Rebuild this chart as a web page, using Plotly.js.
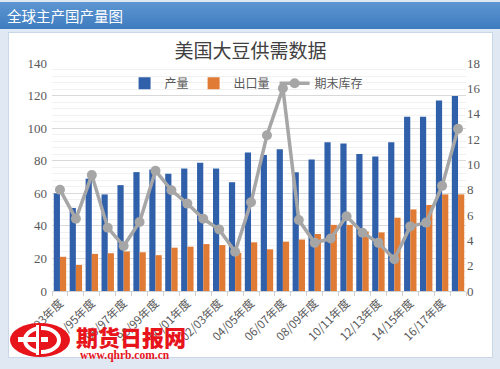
<!DOCTYPE html>
<html><head><meta charset="utf-8">
<script src="https://cdn.plot.ly/plotly-3.0.1.min.js"></script>
<style>
html,body{margin:0;padding:0;width:500px;height:369px;overflow:hidden;background:#dfe8f3;}
#hdr{position:absolute;left:0;top:2px;width:500px;height:27px;background:linear-gradient(#5d96d2,#3e7cbf);color:#fff;font:14.5px "Noto Sans CJK SC",sans-serif;line-height:27px;padding-left:7px;box-sizing:border-box;}
#panel{position:absolute;left:8px;top:32px;width:485px;height:326px;background:#fff;border:1px solid #c9d7e9;box-sizing:border-box;}
#chart{position:absolute;left:8px;top:32px;width:485px;height:326px;}
#logo{position:absolute;left:8px;top:316px;width:180px;height:48px;}
</style></head>
<body>
<div id="hdr">全球主产国产量图</div>
<div id="panel"></div>
<div id="chart"></div>
<svg id="logo" width="180" height="48" viewBox="0 0 180 48">
  <ellipse cx="32" cy="24" rx="30" ry="17" fill="#e8141b"/>
  <ellipse cx="34" cy="24" rx="17" ry="12" fill="none" stroke="#fff" stroke-width="4"/>
  <rect x="10" y="21" width="30" height="5" fill="#fff"/>
  <rect x="28" y="9" width="5" height="30" fill="#e8141b"/>
  <rect x="28" y="9" width="3" height="30" fill="#fff"/>
  <text x="68" y="30" font-family="Noto Sans CJK SC" font-weight="900" font-size="22" fill="#e8141b">期货日报网</text>
  <text x="72" y="43" font-family="Liberation Serif" font-weight="bold" font-size="11.5" fill="#e8141b">www.qhrb.com.cn</text>
</svg>
<script>
const categories = ["92/93年度","93/94年度","94/95年度","95/96年度","96/97年度","97/98年度","98/99年度","99/00年度","00/01年度","01/02年度","02/03年度","03/04年度","04/05年度","05/06年度","06/07年度","07/08年度","08/09年度","09/10年度","10/11年度","11/12年度","12/13年度","13/14年度","14/15年度","15/16年度","16/17年度","17/18年度"];
const production = [60, 51, 69, 59.3, 65, 73, 74.6, 72, 75.2, 78.8, 75.2, 66.8, 85, 83.5, 87, 72.9, 80.8, 91.4, 90.6, 84.1, 82.6, 91.4, 107, 107, 117, 119.7];
const exports = [21, 16, 22.8, 23.2, 24.3, 23.8, 22, 26.6, 27.2, 28.8, 28.2, 23.5, 29.9, 25.6, 30.3, 31.6, 35, 40.6, 40.6, 36.6, 36, 45, 50.1, 52.8, 59.3, 59.3];
const endingStocks = [8.0, 5.7, 9.15, 5.0, 3.55, 5.45, 9.5, 7.95, 6.9, 5.7, 4.85, 3.1, 7.0, 12.3, 16.0, 5.6, 3.8, 4.15, 5.9, 4.6, 3.8, 2.5, 5.1, 5.4, 8.3, 12.8];
const leftTicks = [0, 20, 40, 60, 80, 100, 120, 140];
const rightTicks = [0, 2, 4, 6, 8, 10, 12, 14, 16, 18];

const tickText = categories.map((c, i) => i % 2 === 0 ? c : "");
const cjk = '"Noto Sans CJK SC", sans-serif';
const num = '"Liberation Serif", serif';

const traces = [
  {type:'bar', name:'产量', x:categories, y:production, marker:{color:'#3060aa'}},
  {type:'bar', name:'出口量', x:categories, y:exports, marker:{color:'#e07b36'}},
  {type:'scatter', mode:'lines+markers', name:'期末库存', x:categories, y:endingStocks, yaxis:'y2',
   line:{color:'#a6a6a6', width:3.5}, marker:{color:'#a6a6a6', size:10}}
];

const layout = {
  width:485, height:326,
  margin:{l:44, r:27, t:31, b:67, autoexpand:false},
  paper_bgcolor:'rgba(0,0,0,0)', plot_bgcolor:'rgba(0,0,0,0)',
  title:{text:'美国大豆供需数据', font:{family:cjk, size:19, color:'#404040'}, x:0.5, xanchor:'center', y:0.94, yanchor:'middle', yref:'container'},
  barmode:'group', bargap:0.22, bargroupgap:0,
  showlegend:true,
  legend:{orientation:'h', x:0.47, xanchor:'center', y:0.975, yanchor:'top', font:{family:cjk, size:12, color:'#595959'}, bgcolor:'rgba(0,0,0,0)', itemwidth:30, traceorder:'normal'},
  xaxis:{type:'category', range:[-0.5, categories.length - 0.5], tickvals:categories, ticktext:tickText, tickangle:-45,
    tickfont:{family:cjk, size:11.5, color:'#595959'}, showline:true, linecolor:'#d0d0d0', linewidth:1,
    ticks:'outside', tickson:'boundaries', ticklen:4, tickcolor:'#d0d0d0', showgrid:false, automargin:false},
  yaxis:{range:[0,140], tickvals:leftTicks, tickfont:{family:num, size:13, color:'#595959'}, ticklabelstandoff:4,
    showgrid:true, gridcolor:'#d9d9d9', gridwidth:1, zeroline:false, showline:false, ticks:'',
    minor:{dtick:4, showgrid:true, gridcolor:'#f1f1f1', gridwidth:1}, automargin:false},
  yaxis2:{range:[0,18], tickvals:rightTicks, overlaying:'y', side:'right', showgrid:false, zeroline:false,
    tickfont:{family:num, size:13, color:'#595959'}, showline:false, ticks:'', automargin:false}
};
Plotly.newPlot('chart', traces, layout, {displayModeBar:false, staticPlot:true});
</script>
</body></html>
